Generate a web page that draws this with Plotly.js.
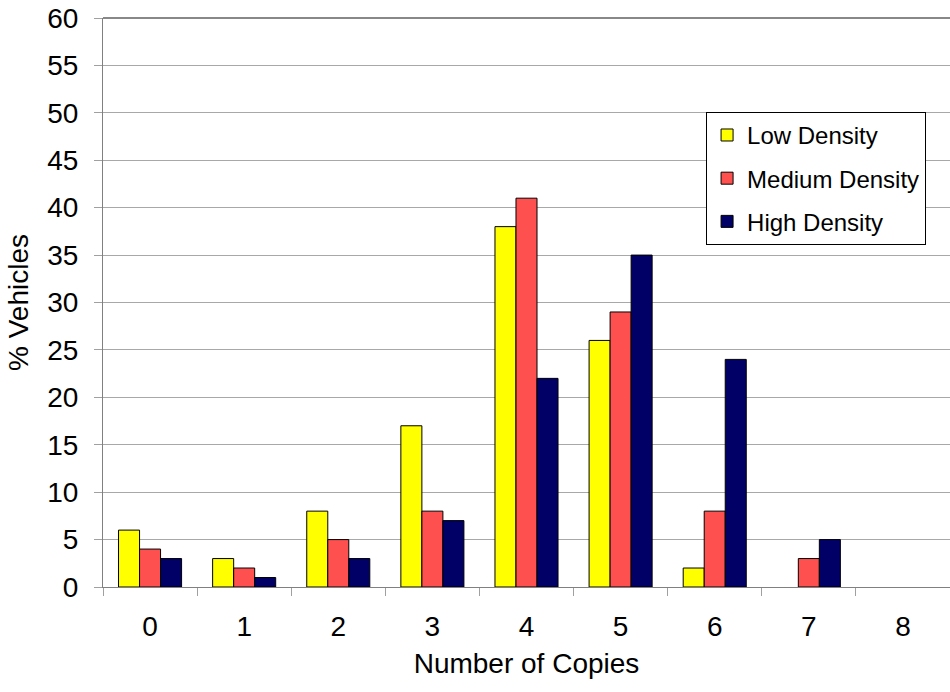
<!DOCTYPE html>
<html>
<head>
<meta charset="utf-8">
<script src="https://cdn.plot.ly/plotly-3.0.1.min.js"></script>
<style>html,body{margin:0;padding:0;background:#fff;}#chart{width:950px;height:692px;}</style>
</head>
<body>
<div id="chart"></div>
<script>
var categories = ["0", "1", "2", "3", "4", "5", "6", "7", "8"];
var lowDensity = [6, 3, 8, 17, 38, 26, 2, 0, 0];
var mediumDensity = [4, 2, 5, 8, 41, 29, 8, 3, 0];
var highDensity = [3, 1, 3, 7, 22, 35, 24, 5, 0];
var seriesNames = ["Low Density", "Medium Density", "High Density"];
var seriesColors = ["#FFFF00", "#FF5050", "#000066"];

var font = "Arial, 'Liberation Sans', sans-serif";
var allSeries = [lowDensity, mediumDensity, highDensity];
var traces = allSeries.map(function (vals, i) {
  return {
    type: "bar",
    x: categories,
    y: vals,
    name: seriesNames[i],
    legendgroup: "g" + i,
    marker: {
      color: seriesColors[i],
      line: { color: "#000000", width: vals.map(function (v) { return v === 0 ? 0 : 1; }) }
    },
    hoverinfo: "x+y+name"
  };
});

var layout = {
  width: 950,
  height: 692,
  margin: { l: 103, r: 0, t: 18, b: 105 },
  paper_bgcolor: "#ffffff",
  plot_bgcolor: "#ffffff",
  font: { family: font, color: "#000000", size: 28 },
  barmode: "group",
  bargap: 0.33,
  bargroupgap: 0,
  showlegend: true,
  legend: {
    x: 0.712, y: 0.835, xanchor: "left", yanchor: "top",
    bordercolor: "#000000", borderwidth: 1, bgcolor: "#ffffff",
    font: { family: font, size: 24, color: "#000000" },
    traceorder: "grouped",
    tracegroupgap: 9
  },
  xaxis: {
    type: "category",
    tickson: "boundaries",
    ticks: "outside",
    ticklen: 8,
    tickcolor: "#a0a0a0",
    showline: true,
    linecolor: "#808080",
    linewidth: 1,
    showgrid: false,
    tickfont: { family: font, size: 28 },
    ticklabelstandoff: 14,
    title: { text: "Number of Copies", font: { family: font, size: 28 }, standoff: 12 }
  },
  yaxis: {
    range: [0, 60],
    dtick: 5,
    tick0: 0,
    ticks: "outside",
    ticklen: 8,
    tickcolor: "#a0a0a0",
    showline: true,
    linecolor: "#808080",
    linewidth: 1,
    showgrid: true,
    gridcolor: "#a8a8a8",
    gridwidth: 1,
    zeroline: false,
    tickfont: { family: font, size: 28 },
    ticklabelstandoff: 10,
    title: { text: "% Vehicles", font: { family: font, size: 28 }, standoff: 10 }
  },
  shapes: [{
    type: "line", xref: "paper", yref: "paper", x0: 0, x1: 1, y0: 1, y1: 1,
    line: { color: "#606060", width: 1.5 }
  }]
};

Plotly.newPlot("chart", traces, layout, { displayModeBar: false, staticPlot: true });
</script>
</body>
</html>
